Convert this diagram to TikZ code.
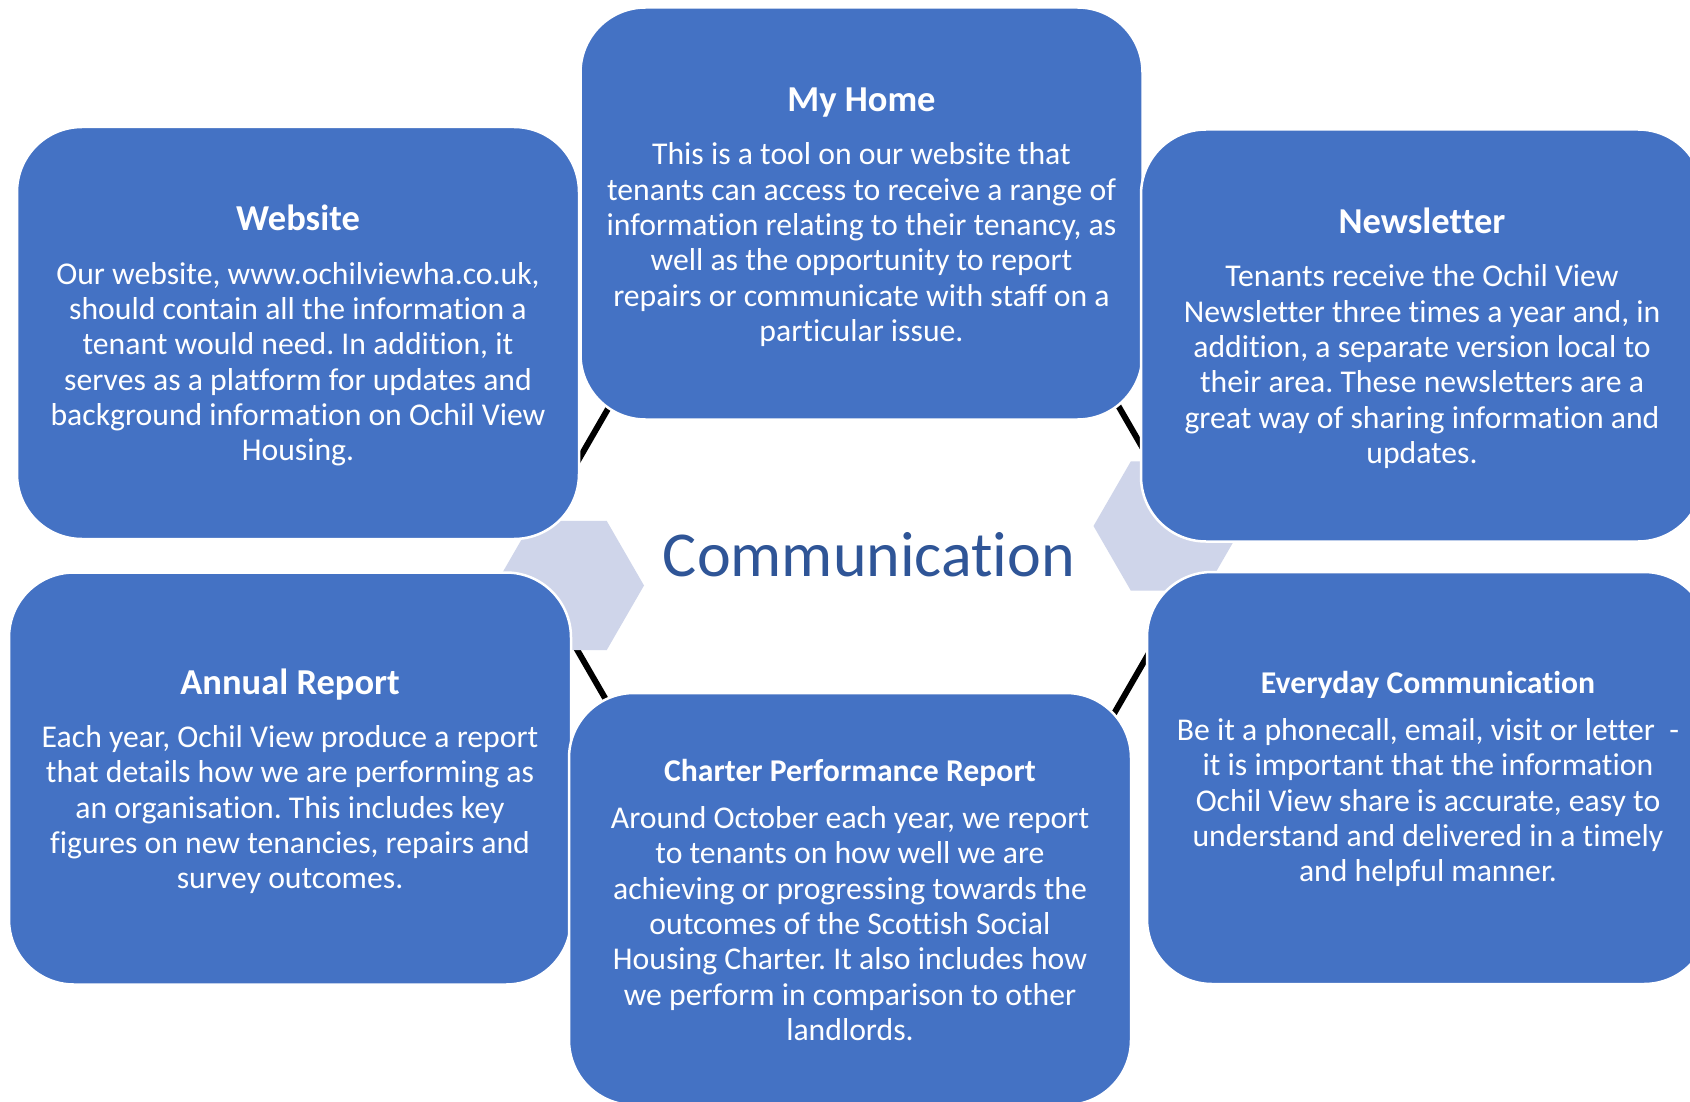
\documentclass[tikz,border=0pt]{standalone}
\usepackage{fontspec}
\setmainfont{Carlito}[Ligatures={NoCommon}]
\frenchspacing
\definecolor{cardblue}{HTML}{4472C4}
\definecolor{hexfill}{HTML}{CFD5EA}
\definecolor{hubtext}{HTML}{2F5597}
% card headings; the strut sets the space above the heading
\newcommand\bigtitle[1]{{\fontsize{36.5}{35.3}\selectfont\bfseries\rule{0pt}{31pt}#1}}
\newcommand\smalltitle[1]{{\fontsize{31.7}{35.3}\selectfont\bfseries\rule{0pt}{24pt}#1}}
\begin{document}
\begin{tikzpicture}[x=1pt,y=-1pt,
  card/.style={draw=white, line width=2.5pt, fill=cardblue,
    rounded corners=65pt, minimum width=562pt, minimum height=412pt,
    inner sep=0pt, align=center, text=white,
    font=\fontsize{31.7}{35.3}\selectfont},
  ring/.style={draw=black, line width=6pt, line join=miter},
  plate/.style={fill=hexfill, draw=none},
  hub/.style={text=hubtext, inner sep=0pt, font=\fontsize{64}{70}\selectfont}]
\useasboundingbox (0,0) rectangle (1690,1102);
\clip (0,0) rectangle (1690,1102);
\fill[white] (0,0) rectangle (1690,1102);

% outline hexagon around the centre
\coordinate (ringc) at (864,556);
\draw[ring] (ringc) ++(0:341) -- ++(120:341) -- ++(180:341)
  -- ++(240:341) -- ++(300:341) -- ++(0:341) -- cycle;

% two light hexagonal plates
\coordinate (plateL) at (569.5,585.5);
\coordinate (plateR) at (1168,526);
\fill[plate] (plateL) ++(0:74.5) -- ++(120:74.5) -- ++(180:74.5)
  -- ++(240:74.5) -- ++(300:74.5) -- ++(0:74.5) -- cycle;
\fill[plate] (plateR) ++(0:74.5) -- ++(120:74.5) -- ++(180:74.5)
  -- ++(240:74.5) -- ++(300:74.5) -- ++(0:74.5) -- cycle;

% centre label
\node[hub] (centre) at (869,555) {Communication};

% the six cards
\node[card] (website) at (298,333) {\bigtitle{Website}\\[18pt]
Our website, www.ochilviewha.co.uk,\\
should contain all the information a\\
tenant would need. In addition, it\\
serves as a platform for updates and\\
background information on Ochil View\\
Housing.};

\node[card] (myhome) at (861.5,213.5) {\bigtitle{My Home}\\[18pt]
This is a tool on our website that\\
tenants can access to receive a range of\\
information relating to their tenancy, as\\
well as the opportunity to report\\
repairs or communicate with staff on a\\
particular issue.};

\node[card] (newsletter) at (1422,335.5) {\bigtitle{Newsletter}\\[18pt]
Tenants receive the Ochil View\\
Newsletter three times a year and, in\\
addition, a separate version local to\\
their area. These newsletters are a\\
great way of sharing information and\\
updates.};

\node[card] (annual) at (290,778.5) {\bigtitle{Annual Report}\\[18pt]
Each year, Ochil View produce a report\\
that details how we are performing as\\
an organisation. This includes key\\
figures on new tenancies, repairs and\\
survey outcomes.};

\node[card] (charter) at (850,899) {\smalltitle{Charter Performance Report}\\[12pt]
Around October each year, we report\\
to tenants on how well we are\\
achieving or progressing towards the\\
outcomes of the Scottish Social\\
Housing Charter. It also includes how\\
we perform in comparison to other\\
landlords.};

\node[card] (everyday) at (1428,778) {\smalltitle{Everyday Communication}\\[12pt]
Be it a phonecall, email, visit or letter\ \ -\\
it is important that the information\\
Ochil View share is accurate, easy to\\
understand and delivered in a timely\\
and helpful manner.};
\end{tikzpicture}
\end{document}
